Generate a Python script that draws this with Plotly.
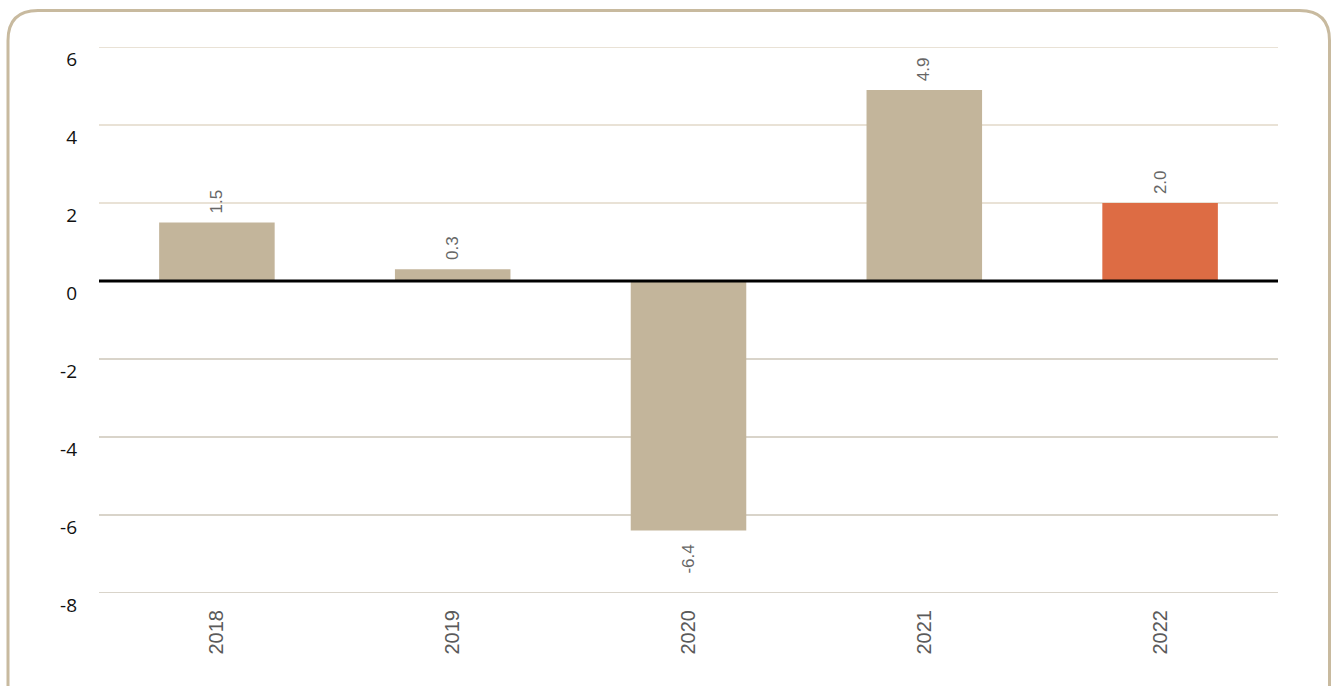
import plotly.graph_objects as go

years = ["2018", "2019", "2020", "2021", "2022"]
values = [1.5, 0.3, -6.4, 4.9, 2.0]
labels = ["1.5", "0.3", "-6.4", "4.9", "2.0"]
bar_colors = ["#c3b59b", "#c3b59b", "#c3b59b", "#c3b59b", "#dd6c44"]
y_ticks = [-8, -6, -4, -2, 0, 2, 4, 6]
y_tick_text = ["-8", "-6", "-4", "-2", "0", "2", "4", "6"]

W, H = 1335, 686
L, R, T, B = 99, 1278, 47, 593

fig = go.Figure()
fig.add_trace(go.Bar(
    x=years, y=values, marker=dict(color=bar_colors, line=dict(width=0)),
    width=0.49, hoverinfo="x+y",
))

annotations = []
for i, (v, lab) in enumerate(zip(values, labels)):
    annotations.append(dict(
        x=i, y=v, xref="x", yref="y", text=lab, showarrow=False,
        textangle=-90, yanchor="bottom" if v >= 0 else "top",
        yshift=7 if v >= 0 else -12,
        font=dict(family="Liberation Sans, Arial", size=17, color="#666666"),
    ))

shapes = []
for t in y_ticks:
    if t == 0:
        continue
    shapes.append(dict(type="line", xref="paper", yref="y", x0=0, x1=1, y0=t, y1=t,
                       line=dict(color="#e2d9c8" if t > 0 else "#cdc6b8", width=1.3),
                       layer="below"))
shapes.append(dict(type="line", xref="paper", yref="y", x0=0, x1=1, y0=0, y1=0,
                   line=dict(color="#000000", width=2.8), layer="above"))

def px(xp):
    return (xp - L) / (R - L)

def py(yp):
    return (B - yp) / (B - T)

x0, x1, y0, y1, r = 8, 1329.5, 10.5, 720, 30
path = (f"M {px(x0+r)},{py(y0)} L {px(x1-r)},{py(y0)} "
        f"Q {px(x1)},{py(y0)} {px(x1)},{py(y0+r)} "
        f"L {px(x1)},{py(y1-r)} Q {px(x1)},{py(y1)} {px(x1-r)},{py(y1)} "
        f"L {px(x0+r)},{py(y1)} Q {px(x0)},{py(y1)} {px(x0)},{py(y1-r)} "
        f"L {px(x0)},{py(y0+r)} Q {px(x0)},{py(y0)} {px(x0+r)},{py(y0)} Z")
shapes.append(dict(type="path", xref="paper", yref="paper", path=path,
                   line=dict(color="#c8ba9f", width=3), layer="below"))

fig.update_layout(
    width=W, height=H, autosize=False,
    margin=dict(l=L, r=W - R, t=T, b=H - B),
    paper_bgcolor="white", plot_bgcolor="white",
    showlegend=False, shapes=shapes, annotations=annotations,
    font=dict(family="Open Sans"),
    xaxis=dict(type="category", range=[-0.5, len(years) - 0.5],
               showgrid=False, showline=False, ticks="", tickangle=-90,
               tickfont=dict(family="Liberation Sans, Arial", size=20, color="#5a5a5a"),
               ticklabelstandoff=12),
    yaxis=dict(range=[-8, 6], tickvals=y_ticks, ticktext=y_tick_text,
               showgrid=False, zeroline=False,
               showline=False, ticks="", tickfont=dict(family="Open Sans", size=19, color="#111111"),
               ticklabelstandoff=21, ticklabelshift=12),
)

fig.write_html("out.html", config={"displayModeBar": False},
               post_script="document.body.style.margin='0px';document.body.style.overflow='hidden';")
